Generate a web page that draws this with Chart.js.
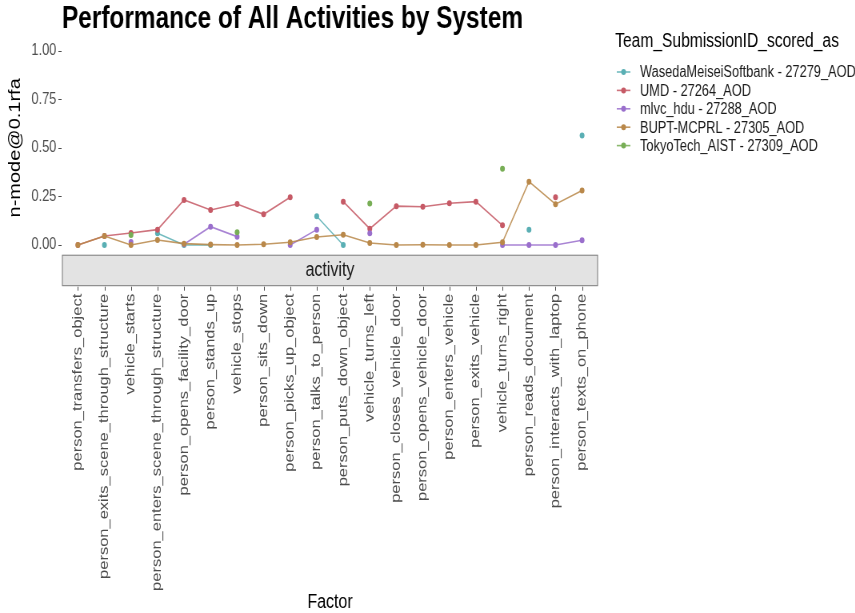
<!DOCTYPE html>
<html>
<head>
<meta charset="utf-8">
<title>Performance of All Activities by System</title>
<script src="https://cdn.jsdelivr.net/npm/chart.js@4.4.1/dist/chart.umd.min.js"></script>
<style>
  html, body { margin: 0; padding: 0; background: #fff; overflow: hidden; }
  /* drawn wide, then squeezed to the 855px window */
  #wrap { width: 1069px; height: 613px; transform: scaleX(0.8); transform-origin: 0 0; }
</style>
</head>
<body>
<div id="wrap"><canvas id="perfChart" width="1069" height="613"></canvas></div>
<script>
// activities on the x axis
var activities = [
    'person_transfers_object',
    'person_exits_scene_through_structure',
    'vehicle_starts',
    'person_enters_scene_through_structure',
    'person_opens_facility_door',
    'person_stands_up',
    'vehicle_stops',
    'person_sits_down',
    'person_picks_up_object',
    'person_talks_to_person',
    'person_puts_down_object',
    'vehicle_turns_left',
    'person_closes_vehicle_door',
    'person_opens_vehicle_door',
    'person_enters_vehicle',
    'person_exits_vehicle',
    'vehicle_turns_right',
    'person_reads_document',
    'person_interacts_with_laptop',
    'person_texts_on_phone'
];

var teamNames = [
    'WasedaMeiseiSoftbank - 27279_AOD',
    'UMD - 27264_AOD',
    'mlvc_hdu - 27288_AOD',
    'BUPT-MCPRL - 27305_AOD',
    'TokyoTech_AIST - 27309_AOD'
];
var teamColors = ['#5aafb4', '#c65a66', '#9a6fcc', '#b9884a', '#78ae56'];

// n-mode@0.1rfa per activity (null = not scored)
var wasedaScores = [null, 0.0, null, 0.06, 0.0, 0.0, null, null, null, 0.148, 0.0, null, null, null, null, null, null, 0.079, null, 0.563];
var umdScores    = [0.0, 0.046, 0.062, 0.079, 0.232, 0.18, 0.211, 0.158, 0.246, null, 0.223, 0.084, 0.2, 0.197, 0.215, 0.223, 0.101, null, 0.246, null];
var mlvcScores   = [null, null, 0.015, null, 0.004, 0.094, 0.043, null, 0.0, 0.079, null, 0.06, null, null, null, null, 0.0, 0.0, 0.0, 0.024];
var buptScores   = [0.0, 0.046, 0.0, 0.026, 0.007, 0.002, 0.0, 0.004, 0.014, 0.041, 0.053, 0.01, 0.0, 0.001, 0.0, 0.0, 0.014, 0.326, 0.21, 0.28];
var tokyoScores  = [null, null, 0.052, null, null, null, 0.065, null, null, null, null, 0.213, null, null, null, null, 0.392, null, null, null];

var yTicks = [0, 0.25, 0.5, 0.75, 1.0];

var allScores = [wasedaScores, umdScores, mlvcScores, buptScores, tokyoScores];

function withAlpha(hex, a) {
    var r = parseInt(hex.substr(1, 2), 16), g = parseInt(hex.substr(3, 2), 16), b = parseInt(hex.substr(5, 2), 16);
    return 'rgba(' + r + ',' + g + ',' + b + ',' + a + ')';
}

var datasets = [];
for (var i = 0; i < teamNames.length; i++) {
    var pts = [];
    for (var j = 0; j < activities.length; j++) {
        pts.push({ x: j + 1, y: allScores[i][j] });
    }
    datasets.push({
        label: teamNames[i],
        data: pts,
        borderColor: withAlpha(teamColors[i], 0.85),
        backgroundColor: teamColors[i],
        borderWidth: 1.6,
        pointRadius: 3,
        pointBorderWidth: 0,
        pointBackgroundColor: teamColors[i],
        spanGaps: false,
        order: teamNames.length - i
    });
}

var FONT = '"Liberation Sans", Arial, Helvetica, sans-serif';

// title, strip, tick marks, axis titles and legend
var decorations = {
    id: 'decorations',
    afterDraw: function(chart) {
        var ctx = chart.ctx;
        var area = chart.chartArea;
        var xs = chart.scales.x, ys = chart.scales.y;
        ctx.save();

        // title
        ctx.fillStyle = '#000';
        ctx.font = 'bold 30.5px ' + FONT;
        ctx.textAlign = 'left';
        ctx.textBaseline = 'alphabetic';
        ctx.fillText('Performance of All Activities by System', 77.5, 28);

        // y tick marks
        ctx.strokeStyle = '#4d4d4d';
        ctx.lineWidth = 1;
        for (var i = 0; i < yTicks.length; i++) {
            var py = Math.round(ys.getPixelForValue(yTicks[i])) + 0.5;
            ctx.beginPath();
            ctx.moveTo(area.left - 4.5, py);
            ctx.lineTo(area.left - 0.5, py);
            ctx.stroke();
        }

        // facet strip
        var stripTop = area.bottom + 0.5, stripBottom = area.bottom + 31;
        ctx.fillStyle = '#e3e3e3';
        ctx.fillRect(area.left, stripTop, area.right - area.left, stripBottom - stripTop);
        ctx.strokeStyle = '#7a7a7a';
        ctx.strokeRect(area.left + 0.5, stripTop, area.right - area.left - 1, stripBottom - stripTop);
        ctx.fillStyle = '#1a1a1a';
        ctx.font = '20px ' + FONT;
        ctx.textAlign = 'center';
        ctx.textBaseline = 'middle';
        ctx.fillText('activity', (area.left + area.right) / 2, (stripTop + stripBottom) / 2);

        // x tick marks under the strip
        ctx.strokeStyle = '#4d4d4d';
        for (var k = 0; k < activities.length; k++) {
            var px = Math.round(xs.getPixelForValue(k + 1)) + 0.5;
            ctx.beginPath();
            ctx.moveTo(px, stripBottom + 1);
            ctx.lineTo(px, stripBottom + 5);
            ctx.stroke();
        }

        // axis titles
        ctx.fillStyle = '#000';
        ctx.font = '20px ' + FONT;
        ctx.textAlign = 'center';
        ctx.textBaseline = 'middle';
        ctx.fillText('Factor', (area.left + area.right) / 2, 602);
        ctx.save();
        ctx.translate(19, (area.top + area.bottom) / 2);
        ctx.rotate(-Math.PI / 2);
        ctx.fillText('n-mode@0.1rfa', 0, 0);
        ctx.restore();

        // legend
        ctx.textAlign = 'left';
        ctx.font = '19.5px ' + FONT;
        ctx.fillText('Team_SubmissionID_scored_as', 769, 42);
        ctx.font = '16px ' + FONT;
        for (var n = 0; n < chart.data.datasets.length; n++) {
            var ds = chart.data.datasets[n];
            var ly = 72 + n * 18.4;
            ctx.strokeStyle = ds.borderColor;
            ctx.lineWidth = 1.6;
            ctx.beginPath();
            ctx.moveTo(771, ly);
            ctx.lineTo(788, ly);
            ctx.stroke();
            ctx.fillStyle = ds.pointBackgroundColor;
            ctx.beginPath();
            ctx.arc(779.5, ly, 3, 0, Math.PI * 2);
            ctx.fill();
            ctx.fillStyle = '#1a1a1a';
            ctx.fillText(ds.label, 800, ly + 1);
        }
        ctx.restore();
    }
};

var perfChart = new Chart(document.getElementById('perfChart').getContext('2d'), {
    type: 'line',
    data: { datasets: datasets },
    options: {
        responsive: false,
        animation: false,
        layout: { padding: { top: 41, right: 321.5, bottom: 0, left: 0 } },
        plugins: {
            legend: { display: false },
            title: { display: false },
            tooltip: { enabled: false }
        },
        scales: {
            x: {
                type: 'linear',
                min: 0.4,
                max: 20.6,
                grid: { display: false, drawTicks: false },
                border: { display: false },
                afterBuildTicks: function(scale) {
                    scale.ticks = activities.map(function(a, i) { return { value: i + 1 }; });
                },
                afterFit: function(scale) { scale.height = 358.3; },
                ticks: {
                    autoSkip: false,
                    minRotation: 90,
                    maxRotation: 90,
                    padding: 39,
                    color: '#4d4d4d',
                    font: { family: FONT, size: 16.5 },
                    callback: function(v) { return activities[v - 1]; }
                }
            },
            y: {
                type: 'linear',
                min: -0.05,
                max: 1.05,
                grid: { display: false, drawTicks: false },
                border: { display: false },
                afterBuildTicks: function(scale) {
                    scale.ticks = yTicks.map(function(v) { return { value: v }; });
                },
                afterFit: function(scale) { scale.width = 77.5; },
                ticks: {
                    padding: 7,
                    color: '#4d4d4d',
                    font: { family: FONT, size: 16 },
                    callback: function(v) { return v.toFixed(2); }
                }
            }
        }
    },
    plugins: [decorations]
});
</script>
</body>
</html>
